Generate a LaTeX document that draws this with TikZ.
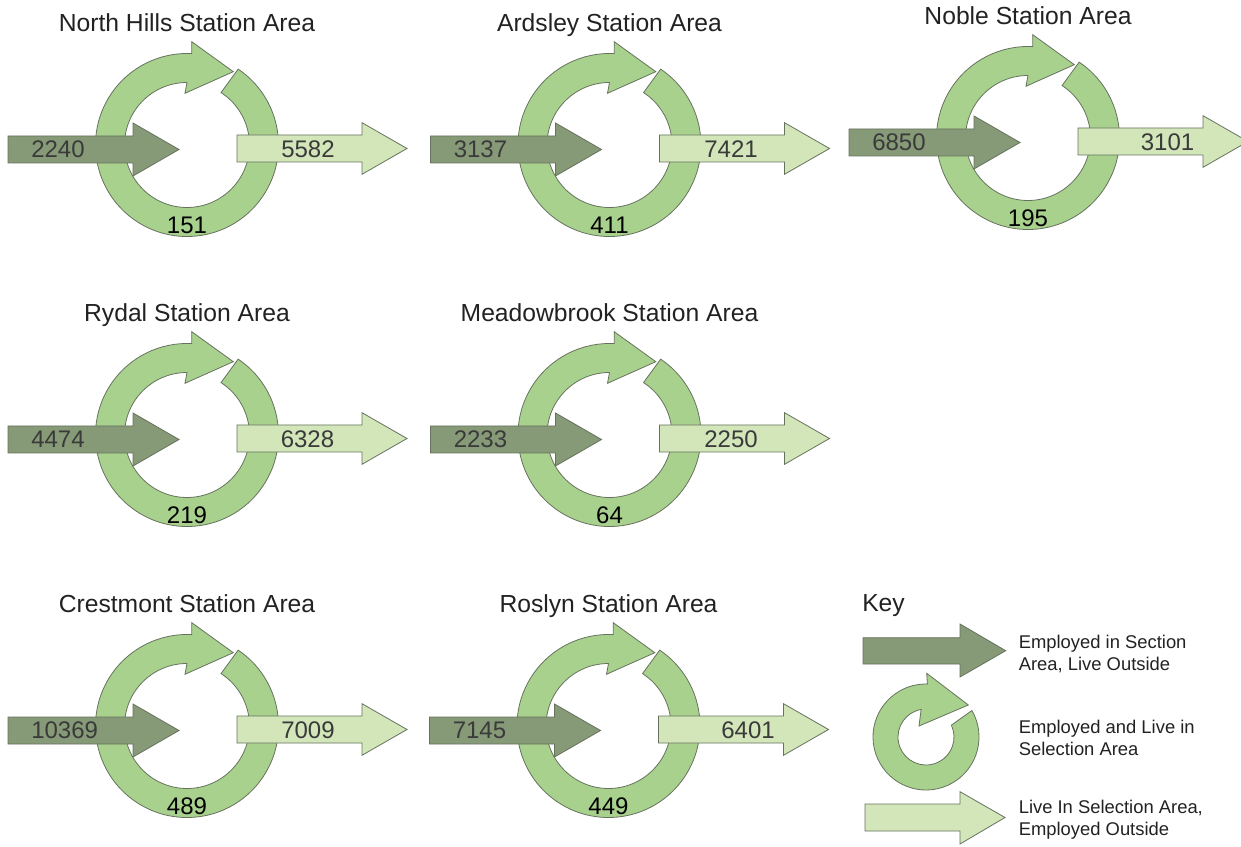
\documentclass[tikz,border=0pt]{standalone}
\usepackage{fontspec}
\setmainfont{Liberation Sans}
\definecolor{arrowdark}{HTML}{879A78}
\definecolor{ringgreen}{HTML}{A9D18E}
\definecolor{arrowlight}{HTML}{D2E6BA}
\definecolor{edgegray}{HTML}{66725E}
\definecolor{numgray}{HTML}{3A3A3A}
\definecolor{titlegray}{HTML}{222222}
\tikzset{
  ringstyle/.style={fill=ringgreen, draw=edgegray, line width=0.6pt, line join=miter},
  instyle/.style={fill=arrowdark, draw=edgegray, line width=0.6pt, line join=miter},
  outstyle/.style={fill=arrowlight, draw=edgegray, line width=0.6pt, line join=miter},
  titlefont/.style={inner sep=0pt, text=titlegray, font={\fontsize{18.5}{22}\selectfont}},
  numfont/.style={inner sep=0pt, text=numgray, font={\fontsize{18}{21}\selectfont}},
  ringnum/.style={inner sep=0pt, text=black, font={\fontsize{18}{21}\selectfont}},
  keyfont/.style={inner sep=0pt, text=titlegray, align=left, font={\fontsize{13.8}{16.3}\selectfont}}
}
\newcommand{\stationpanel}[8]{%
  \begin{scope}[shift={(#2,846-#3)}]
    \filldraw[ringstyle] (56:91.5) arc[start angle=56, end angle=-273, radius=91.5]
      -- (4.7,103.3) -- (46.3,73.3) -- (-2,51.7) -- (90:62.5)
      arc[start angle=90, end angle=417, radius=62.5] -- cycle;
    \filldraw[instyle] (-179,9) -- (-54,9) -- (-54,22) -- (-8,-4.5) -- (-54,-31)
      -- (-54,-18) -- (-179,-18) -- cycle;
    \filldraw[outstyle] (50,10) -- (175,10) -- (175,22.3) -- (220,-3.5) -- (175,-29.3)
      -- (175,-17) -- (50,-17) -- cycle;
    \node[titlefont, anchor=base] (#1-title) at (0,113.5) {#4};
    \node[numfont, anchor=base west] (#1-in) at (-156,-12.7) {#5};
    \node[numfont, anchor=base] (#1-out) at (#6,-12.3) {#7};
    \node[ringnum, anchor=base] (#1-both) at (0,-88.3) {#8};
  \end{scope}}
\begin{document}
\begin{tikzpicture}[x=0.75pt, y=0.75pt]
\useasboundingbox[fill=white] (0,0) rectangle (1241,846);
\stationpanel{nh}{187}{145}{North Hills Station Area}{2240}{121}{5582}{151}
\stationpanel{ar}{609.5}{145}{Ardsley Station Area}{3137}{121.5}{7421}{411}
\stationpanel{nb}{1028}{138}{Noble Station Area}{6850}{139.5}{3101}{195}
\stationpanel{ry}{187}{435}{Rydal Station Area}{4474}{120.5}{6328}{219}
\stationpanel{mb}{609.5}{435}{Meadowbrook Station Area}{2233}{121.5}{2250}{64}
\stationpanel{cr}{187}{726}{Crestmont Station Area}{10369}{121}{7009}{489}
\stationpanel{rs}{608.5}{726}{Roslyn Station Area}{7145}{139.5}{6401}{449}
% key
\node[titlefont, anchor=base west] (key-title) at (862,846-611.7) {Key};
\filldraw[instyle] (863,208.3) -- (960,208.3) -- (960,222) -- (1005.7,195.3) -- (960,169)
  -- (960,182) -- (863,182) -- cycle;
\begin{scope}[shift={(926,109)}]
  \filldraw[ringstyle] (30:53) arc[start angle=30, end angle=-271.5, radius=53]
    -- (0.7,63.7) -- (42.3,32) -- (-7,11) -- (100:28)
    arc[start angle=100, end angle=385, radius=28] -- cycle;
\end{scope}
\filldraw[outstyle] (865,42) -- (960,42) -- (960,54.3) -- (1005,28.5) -- (960,2)
  -- (960,15) -- (865,15) -- cycle;
\node[keyfont, anchor=north west] (key-in) at (1018.5,846-635) {Employed in Section\\Area, Live Outside};
\node[keyfont, anchor=north west] (key-both) at (1018.5,846-720) {Employed and Live in\\Selection Area};
\node[keyfont, anchor=north west] (key-out) at (1018.5,846-800) {Live In Selection Area,\\Employed Outside};
\end{tikzpicture}
\end{document}
